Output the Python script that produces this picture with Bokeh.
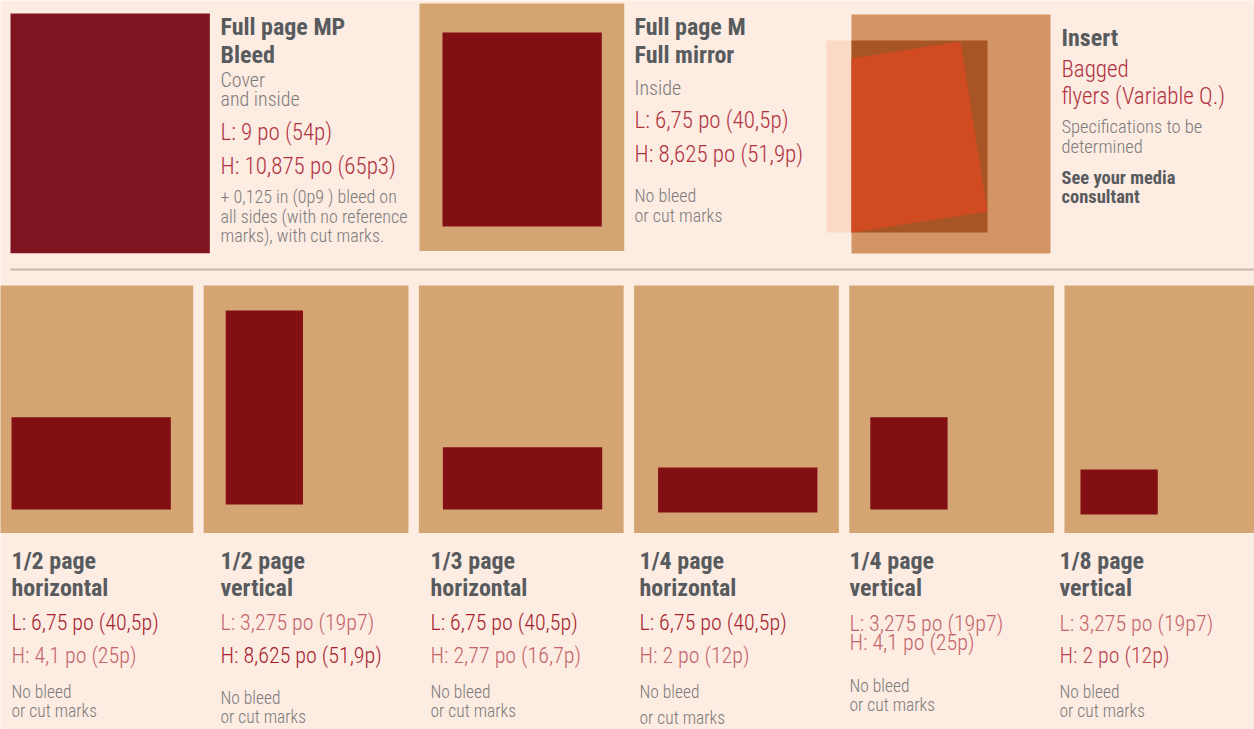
import math
from bokeh.plotting import figure
from bokeh.models import Range1d
from bokeh.embed import file_html
from bokeh.resources import INLINE
from bokeh.core.properties import value

# ---------------- data ----------------
PAGE_W, PAGE_H = 9.0, 10.875          # trim size, inches
BLEED = 0.125                          # bleed on each side, inches
MIRROR_W, MIRROR_H = 6.75, 8.625       # full mirror live area

TOP_TITLES = [["Full page MP", "Bleed"], ["Full page M", "Full mirror"], ["Insert"]]
TOP_SUBS = [["Cover", "and inside"], ["Inside"], ["Specifications to be", "determined"]]
TOP_DIMS = [["L: 9 po (54p)", "H: 10,875 po (65p3)"],
            ["L: 6,75 po (40,5p)", "H: 8,625 po (51,9p)"],
            ["Bagged", "flyers (Variable Q.)"]]
TOP_NOTES = [["+ 0,125 in (0p9 ) bleed on", "all sides (with no reference", "marks), with cut marks."],
             ["No bleed", "or cut marks"],
             ["See your media", "consultant"]]

AD_NAMES = ["1/2 page", "1/2 page", "1/3 page", "1/4 page", "1/4 page", "1/8 page"]
AD_ORIENT = ["horizontal", "vertical", "horizontal", "horizontal", "vertical", "vertical"]
AD_W = [6.75, 3.275, 6.75, 6.75, 3.275, 3.275]
AD_H = [4.1, 8.625, 2.77, 2.0, 4.1, 2.0]
AD_L_TXT = ["L: 6,75 po (40,5p)", "L: 3,275  po (19p7)", "L: 6,75 po (40,5p)",
            "L: 6,75 po (40,5p)", "L: 3,275 po (19p7)", "L: 3,275 po (19p7)"]
AD_H_TXT = ["H: 4,1 po (25p)", "H: 8,625 po (51,9p)", "H: 2,77 po (16,7p)",
            "H: 2 po (12p)", "H: 4,1 po (25p)", "H: 2 po (12p)"]
AD_NOTE = ["No bleed", "or cut marks"]

# ---------------- style / layout ----------------
BG = "#fdece2"
TAN = "#d4a472"
DARK = "#820f13"
BLEED_RED = "#7f1520"
GRAY_T = "#585b5e"
GRAY_S = "#7c7b7b"
RED_TOP = "#b0323f"
RED_DK = "#a61d2d"
RED_LT = "#c4646a"
RED_MID = "#b8424d"
FONT = value("'Roboto Condensed', 'Liberation Sans Narrow', 'Open Sans', sans-serif")
FONT_LIGHT = value("'Roboto Condensed Light', 'Roboto Condensed', 'Liberation Sans Narrow', sans-serif")
DY = -8                      # baseline correction for text placement

SX, SY = 23.6, 22.5          # px per inch for ad areas
PAGE_S = 22.75               # px per inch for page boxes
BLEED_S = 21.55              # px per inch for the bleed page

p = figure(width=1254, height=729, x_range=Range1d(0, 1254), y_range=Range1d(729, 0),
           output_backend="svg", toolbar_location=None, x_axis_type=None, y_axis_type=None,
           min_border=0, background_fill_color=BG, border_fill_color=BG,
           outline_line_color=None)
p.grid.visible = False


def txt(x, y, t, size, color, bold=False):
    p.text(x=x, y=[v + DY for v in y], text=t, text_font=FONT if bold else FONT_LIGHT,
           text_font_size=size, text_color=color,
           text_font_style="bold" if bold else "normal",
           text_baseline="alphabetic", text_align="left")


# ---- top row shapes ----
# full page bleed
bw, bh = (PAGE_W + 2 * BLEED) * BLEED_S, (PAGE_H + 2 * BLEED) * BLEED_S
p.quad(left=[10], right=[10 + bw], top=[13], bottom=[13 + bh], fill_color=BLEED_RED, line_color=None)

# full mirror
pw, ph = PAGE_W * PAGE_S, PAGE_H * PAGE_S
p.quad(left=[419], right=[419 + pw], top=[3], bottom=[3 + ph], fill_color=TAN, line_color=None)
p.quad(left=[442], right=[442 + MIRROR_W * SX], top=[32], bottom=[32 + MIRROR_H * SY],
       fill_color=DARK, line_color=None)

# insert illustration
ins_l, ins_t = 851, 14
p.quad(left=[826], right=[987], top=[40], bottom=[232], fill_color="#fcd9c5", line_color=None)
p.quad(left=[ins_l], right=[ins_l + 199], top=[ins_t], bottom=[ins_t + 239], fill_color="#d39566", line_color=None)
p.quad(left=[ins_l], right=[987], top=[40], bottom=[232], fill_color="#a85525", line_color=None)
th = math.tan(math.radians(8.9))
tr = (960, 41)
br = (987, 211)
xs = [ins_l, tr[0], br[0], ins_l]
ys = [tr[1] + (tr[0] - ins_l) * th, tr[1], br[1], min(232, br[1] + (br[0] - ins_l) * th)]
p.patch(x=xs, y=ys, fill_color="#d04b22", line_color=None)

# separator
p.line(x=[10, 1254], y=[269, 269], line_color="#cbb5aa", line_width=2)

# ---- top row texts ----
top_x = [220, 634, 1061]
title_y = [[34, 62], [34, 62], [45]]
sub_y = [[87, 106], [95], [134, 154]]
dims_y = [[140, 174], [128, 162], [77, 104]]
note_y = [[204, 223.5, 243], [203, 223], [185, 204]]
sub_size = ["20px", "20px", "18.5px"]
note_size = ["18px", "18px", "18.5px"]
for i in range(3):
    x = top_x[i]
    txt([x] * len(TOP_TITLES[i]), title_y[i], TOP_TITLES[i], "24px", GRAY_T, bold=True)
    txt([x] * len(TOP_SUBS[i]), sub_y[i], TOP_SUBS[i], sub_size[i], GRAY_S)
    txt([x] * len(TOP_DIMS[i]), dims_y[i], TOP_DIMS[i], "23px", RED_TOP)
    if i == 2:
        txt([x] * len(TOP_NOTES[i]), note_y[i], TOP_NOTES[i], note_size[i], GRAY_T, bold=True)
    else:
        txt([x] * len(TOP_NOTES[i]), note_y[i], TOP_NOTES[i], note_size[i], GRAY_S)

# ---- bottom row ----
box_left = [-12 + i * 215.2 for i in range(6)]
box_top = 285
inner_off = [23, 22, 24, 24, 21, 16]
inner_bottom = [509, 504, 509, 512, 509, 514]
p.quad(left=box_left, right=[b + pw for b in box_left], top=[box_top] * 6,
       bottom=[box_top + ph] * 6, fill_color=TAN, line_color=None)
il = [box_left[i] + inner_off[i] for i in range(6)]
p.quad(left=il, right=[il[i] + AD_W[i] * SX for i in range(6)],
       top=[inner_bottom[i] - AD_H[i] * SY for i in range(6)], bottom=inner_bottom,
       fill_color=DARK, line_color=None)

bx = [11, 220, 430, 639, 849, 1059]
l_y = [630, 630, 630, 630, 631, 631]
h_y = [663, 663, 663, 663, 650, 663]
n_y = [(699, 718), (705, 724), (699, 718), (699, 725), (693, 712), (699, 718)]
l_col = [RED_DK, RED_LT, RED_DK, RED_DK, RED_LT, RED_LT]
h_col = [RED_LT, RED_DK, RED_LT, RED_LT, RED_LT, RED_MID]
txt(bx, [568] * 6, AD_NAMES, "24px", GRAY_T, bold=True)
txt(bx, [595] * 6, AD_ORIENT, "24px", GRAY_T, bold=True)
p.text(x=bx, y=[v + DY for v in l_y], text=AD_L_TXT, text_font=FONT_LIGHT, text_font_size="22px",
       text_color=l_col, text_baseline="alphabetic")
p.text(x=bx, y=[v + DY for v in h_y], text=AD_H_TXT, text_font=FONT_LIGHT, text_font_size="22px",
       text_color=h_col, text_baseline="alphabetic")
txt(bx, [n[0] for n in n_y], [AD_NOTE[0]] * 6, "17.5px", GRAY_S)
txt(bx, [n[1] for n in n_y], [AD_NOTE[1]] * 6, "17.5px", GRAY_S)

open("out.html", "w").write(file_html(p, INLINE))
